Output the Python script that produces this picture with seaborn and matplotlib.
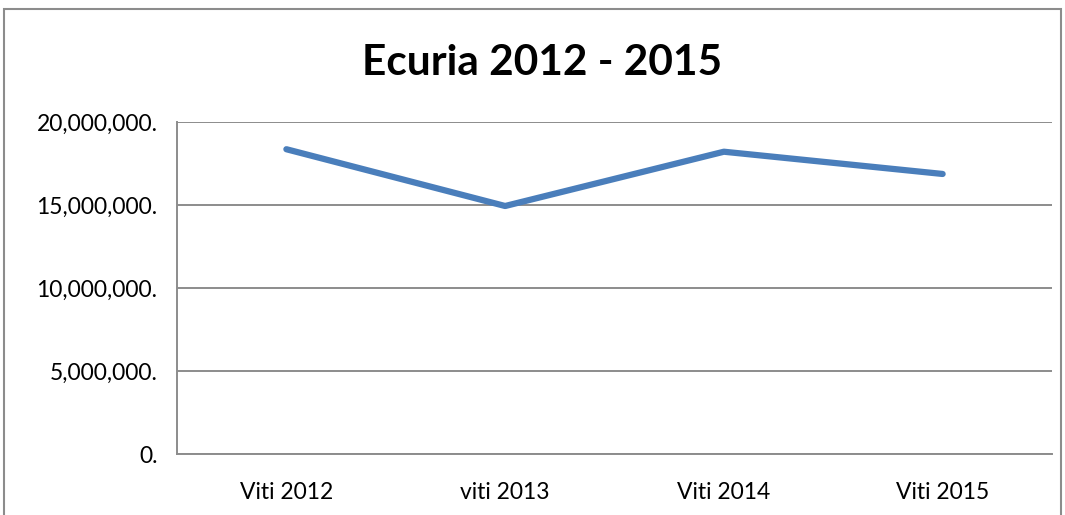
import matplotlib
matplotlib.use("Agg")
import matplotlib.pyplot as plt
import seaborn as sns
import pandas as pd
from matplotlib.patches import Rectangle

categories = ["Viti 2012", "viti 2013", "Viti 2014", "Viti 2015"]
values = [18360000, 14940000, 18210000, 16870000]
y_ticks = [0, 5000000, 10000000, 15000000, 20000000]
y_tick_labels = ["0.", "5,000,000.", "10,000,000.", "15,000,000.", "20,000,000."]
title = "Ecuria 2012 - 2015"

sns.set_style("white")
plt.rcParams['font.family'] = ['Lato', 'DejaVu Sans']

df = pd.DataFrame({"cat": categories, "val": values})

fig = plt.figure(figsize=(10.65, 5.15), dpi=100)
ax = fig.add_axes([0.1662, 0.1184, 0.8216, 0.6447])
sns.lineplot(data=df, x="cat", y="val", ax=ax, color="#4a7ebb", linewidth=4.5,
             solid_capstyle="round", solid_joinstyle="round", sort=False)

ax.set_xlim(-0.5, 3.5)
ax.set_ylim(0, 20000000)
ax.set_yticks(y_ticks)
ax.set_yticklabels(y_tick_labels, fontsize=16.5, color="black")
ax.set_xticks([-0.5, 0.5, 1.5, 2.5, 3.5], minor=False)
ax.set_xticklabels([])
ax.set_xticks(range(len(categories)), minor=True)
ax.set_xticklabels(categories, minor=True, fontsize=16.5, color="black")
ax.tick_params(axis="x", which="minor", length=0, pad=20)
ax.tick_params(axis="x", which="major", length=8, width=1.2, color="#888888", direction="out")
ax.tick_params(axis="y", length=7, width=1.2, color="#888888", direction="out", pad=7)
ax.set_xlabel("")
ax.set_ylabel("")
ax.grid(axis="y", color="#8c8c8c", linewidth=1.4)
ax.set_axisbelow(True)
for s in ["top", "right"]:
    ax.spines[s].set_visible(False)
for s in ["left", "bottom"]:
    ax.spines[s].set_color("#8c8c8c")
    ax.spines[s].set_linewidth(1.4)

fig.text(0.509, 0.877, title, ha="center", va="center", fontsize=30.5, fontweight="bold", color="black")
fig.patches.append(Rectangle((0.004, -0.05), 0.992, 1.032, transform=fig.transFigure,
                             fill=False, edgecolor="#8c8c8c", linewidth=1.5))

fig.savefig("out.png", dpi=100)
